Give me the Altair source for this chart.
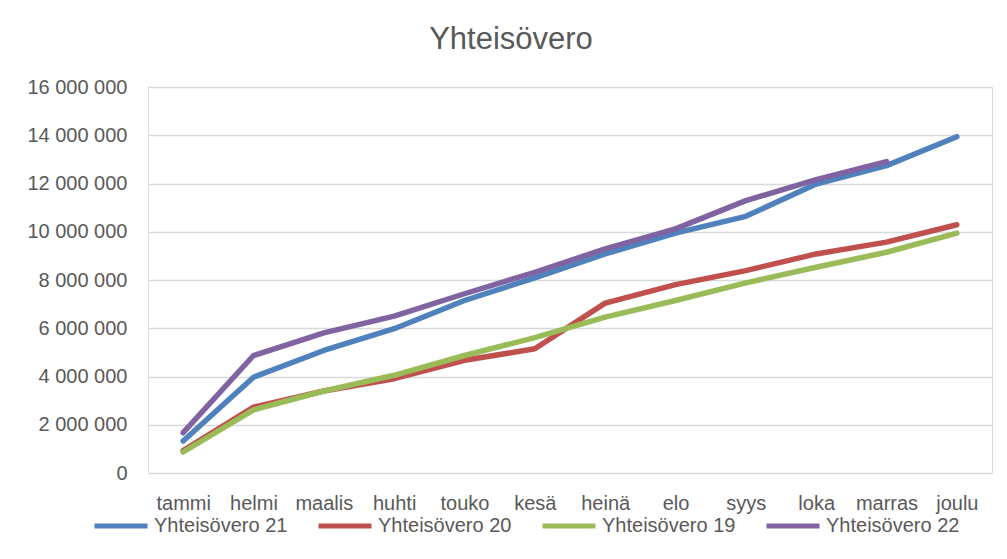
import altair as alt
import pandas as pd

months = ["tammi", "helmi", "maalis", "huhti", "touko", "kesä",
          "heinä", "elo", "syys", "loka", "marras", "joulu"]
series_names = ["Yhteisövero 21", "Yhteisövero 20", "Yhteisövero 19", "Yhteisövero 22"]
colors = ["#4F81BD", "#C0504D", "#9BBB59", "#8064A2"]

v21 = [1330000, 3970000, 5080000, 5980000, 7150000, 8090000,
       9080000, 9940000, 10640000, 11980000, 12740000, 13940000]
v20 = [930000, 2730000, 3400000, 3910000, 4670000, 5150000,
       7040000, 7810000, 8390000, 9080000, 9570000, 10290000]
v19 = [870000, 2620000, 3400000, 4050000, 4870000, 5610000,
       6460000, 7150000, 7880000, 8530000, 9150000, 9940000]
v22 = [1670000, 4870000, 5810000, 6500000, 7430000, 8320000,
       9290000, 10120000, 11290000, 12160000, 12910000, None]

rows = []
for name, vals in zip(series_names, [v21, v20, v19, v22]):
    for m, v in zip(months, vals):
        if v is not None:
            rows.append({"kuukausi": m, "sarja": name, "arvo": v})
df = pd.DataFrame(rows)

TXT = "#595959"
FONT = "Liberation Sans"

chart = alt.Chart(df).mark_line(
    strokeWidth=5.5, strokeCap="round", strokeJoin="round"
).encode(
    x=alt.X("kuukausi:N", sort=months, title=None,
            scale=alt.Scale(type="point", padding=0.5),
            axis=alt.Axis(labelAngle=0, ticks=False, domain=False, grid=False,
                          labelFontSize=20, labelColor=TXT, labelFont=FONT,
                          labelPadding=20)),
    y=alt.Y("arvo:Q", title=None,
            scale=alt.Scale(domain=[0, 16000000], nice=False),
            axis=alt.Axis(values=list(range(0, 16000001, 2000000)),
                          ticks=False, domain=False,
                          gridColor="#d9d9d9", gridWidth=1.5,
                          labelFontSize=20, labelColor=TXT, labelFont=FONT,
                          labelPadding=21,
                          labelExpr="replace(format(datum.value, ','), regexp(',', 'g'), ' ')")),
    color=alt.Color("sarja:N",
                    scale=alt.Scale(domain=series_names, range=colors),
                    legend=alt.Legend(title=None, orient="none", direction="horizontal",
                                      legendX=-56, legendY=410, padding=0,
                                      symbolType="stroke", symbolSize=2809,
                                      symbolStrokeWidth=5, labelOffset=4,
                                      columnPadding=20,
                                      labelFontSize=20, labelColor=TXT, labelFont=FONT)),
    order=alt.Order("sarja_ord:Q")
).transform_calculate(
    sarja_ord="indexof(['Yhteisövero 21','Yhteisövero 20','Yhteisövero 19','Yhteisövero 22'], datum.sarja)"
).properties(
    width=844, height=386,
    title=alt.TitleParams("Yhteisövero", fontSize=31, font=FONT, color=TXT,
                          fontWeight="normal", anchor="middle", dx=-59,
                          offset=21),
    autosize=alt.AutoSizeParams(type="none"),
    padding={"left": 140, "top": 79, "right": 7, "bottom": 78}
).configure_view(stroke=None).configure(background="white")

chart.save("out.html", embed_options={"renderer": "svg", "actions": False})
